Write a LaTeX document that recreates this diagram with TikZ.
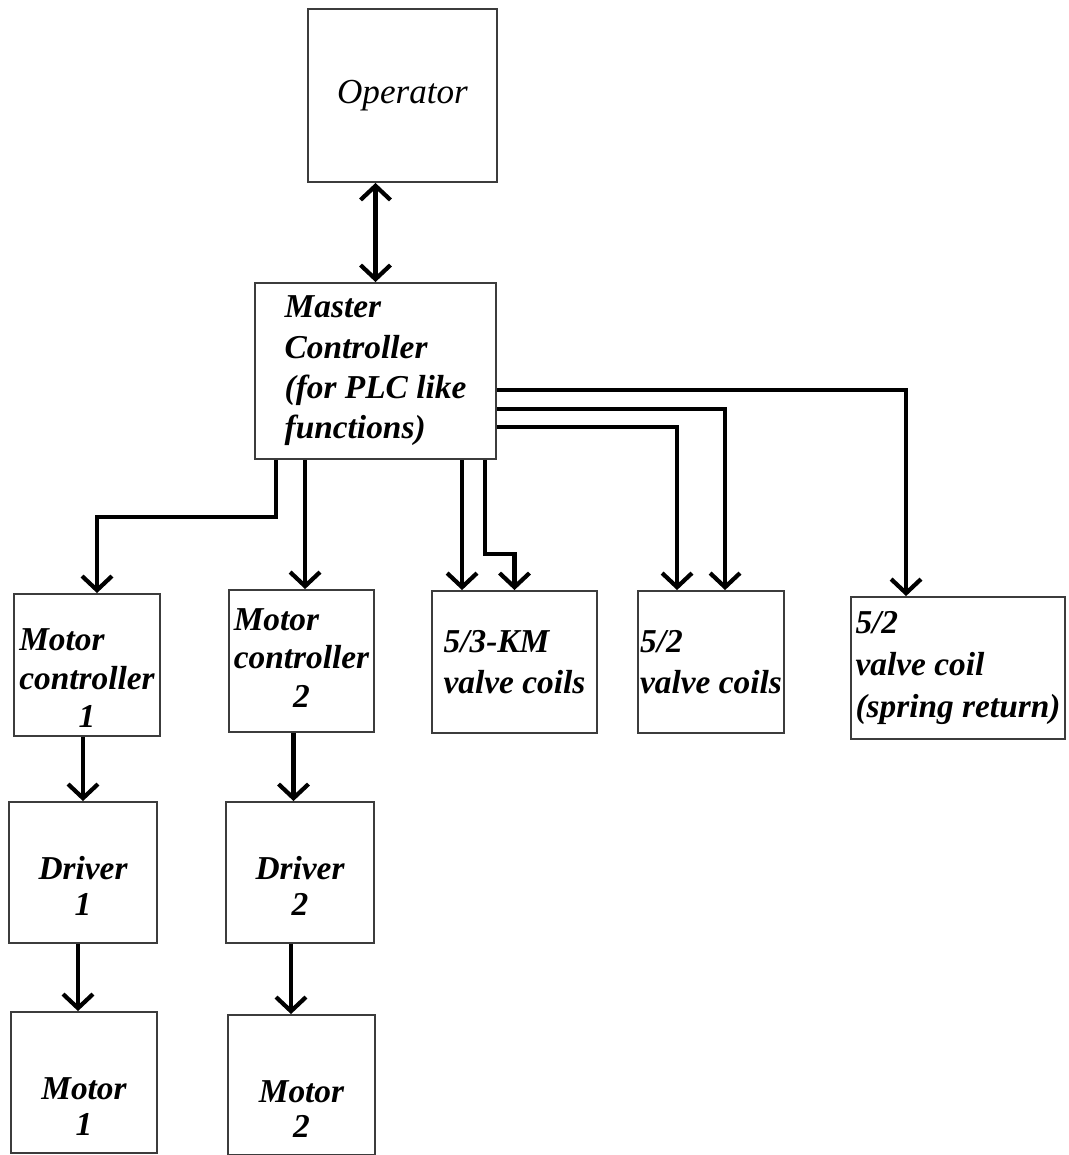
\documentclass[tikz,border=0pt]{standalone}
\usepackage{fontspec}
\setmainfont{Liberation Serif}
\usetikzlibrary{calc, positioning, arrows.meta}
\definecolor{edge}{RGB}{60,60,60}

\begin{document}
\begin{tikzpicture}[x=0.02cm, y=-0.02cm,
    >={Straight Barb[length=8pt,width=17pt]},
    block/.style={draw=edge, line width=1.1pt, inner sep=0pt,
      font=\fontsize{19}{23}\selectfont\bfseries\itshape},
    tight/.style={font=\fontsize{19}{20}\selectfont\bfseries\itshape},
    flow/.style={line width=2.4pt, ->}]
    \useasboundingbox (0,0) rectangle (1068,1155);

    % Operator and master controller
    \node[block, minimum width=3.78cm, minimum height=3.46cm,
        font=\fontsize{20}{24}\selectfont\itshape] (op) at (402.5,95.5) {Operator};
    \node[block, minimum width=4.82cm, minimum height=3.52cm, align=left] (mc) at (375.5,371)
        {Master\\Controller\\(for PLC like\\functions)};

    % Motor controllers and valves
    \node[block, minimum width=2.92cm, minimum height=2.84cm] (mc1) at (87,665)
        {\renewcommand\arraystretch{0.95}\begin{tabular}{@{}l@{}}\rule{0pt}{29pt}Motor\\controller\\\multicolumn{1}{@{}c@{}}{1}\\[-5pt]\end{tabular}};
    \node[block, minimum width=2.9cm, minimum height=2.84cm] (mc2) at (301.5,661)
        {\renewcommand\arraystretch{0.95}\begin{tabular}{@{}l@{}}Motor\\controller\\\multicolumn{1}{@{}c@{}}{2}\end{tabular}};
    \node[block, minimum width=3.3cm, minimum height=2.84cm, align=left] (km) at (514.5,662)
        {5/3-KM\\valve coils};
    \node[block, minimum width=2.92cm, minimum height=2.84cm, align=left] (vc) at (711,662)
        {5/2\\valve coils};
    \node[block, minimum width=4.28cm, minimum height=2.84cm, align=left,
        font=\fontsize{19}{24}\selectfont\bfseries\itshape] (vsr) at (958,668)
        {5/2\\valve coil\\(spring return)};

    % Drivers and motors
    \node[block, tight, minimum width=2.96cm, minimum height=2.82cm, align=center] (d1) at (83,872.5)
        {\rule{0pt}{1cm}Driver\\1};
    \node[block, tight, minimum width=2.96cm, minimum height=2.82cm, align=center] (d2) at (300,872.5)
        {\rule{0pt}{1cm}Driver\\2};
    \node[block, tight, minimum width=2.92cm, minimum height=2.82cm, align=center] (m1) at (84,1082.5)
        {\rule{0pt}{1.4cm}Motor\\1};
    \node[block, tight, minimum width=2.94cm, minimum height=2.8cm, align=center] (m2) at (301.5,1085)
        {\rule{0pt}{1.4cm}Motor\\2};

    % Links from the operator and master
    \draw[flow, <->] (op.south -| mc.north) -- (mc.north);
    \draw[flow] ($(mc.south west)+(22,0)$) |- ($(mc1.north)+(10,-76)$) -- ($(mc1.north)+(10,0)$);
    \draw[flow] ($(mc.south west)+(51,0)$) coordinate (s2) -- (s2 |- mc2.north);
    \draw[flow] ($(mc.south west)+(208,0)$) coordinate (s3) -- (s3 |- km.north);
    \draw[flow] ($(mc.south west)+(231,0)$) |- ($(km.north)+(0,-36)$) -- (km.north);
    \draw[flow] ($(mc.east)+(0,19)$) -| ($(vsr.north west)+(56,0)$);
    \draw[flow] ($(mc.east)+(0,38)$) -| ($(vc.north west)+(88,0)$);
    \draw[flow] ($(mc.east)+(0,56)$) -| ($(vc.north west)+(40,0)$);

    % Down the motor chains
    \draw[flow] (mc1.south -| d1.north) -- (d1.north);
    \draw[flow] ($(d1.south)+(-5,0)$) coordinate (s4) -- (s4 |- m1.north);
    \draw[flow] ($(mc2.south)+(-8,0)$) coordinate (s5) -- (s5 |- d2.north);
    \draw[flow] ($(d2.south)+(-9,0)$) coordinate (s6) -- (s6 |- m2.north);
\end{tikzpicture}
\end{document}
